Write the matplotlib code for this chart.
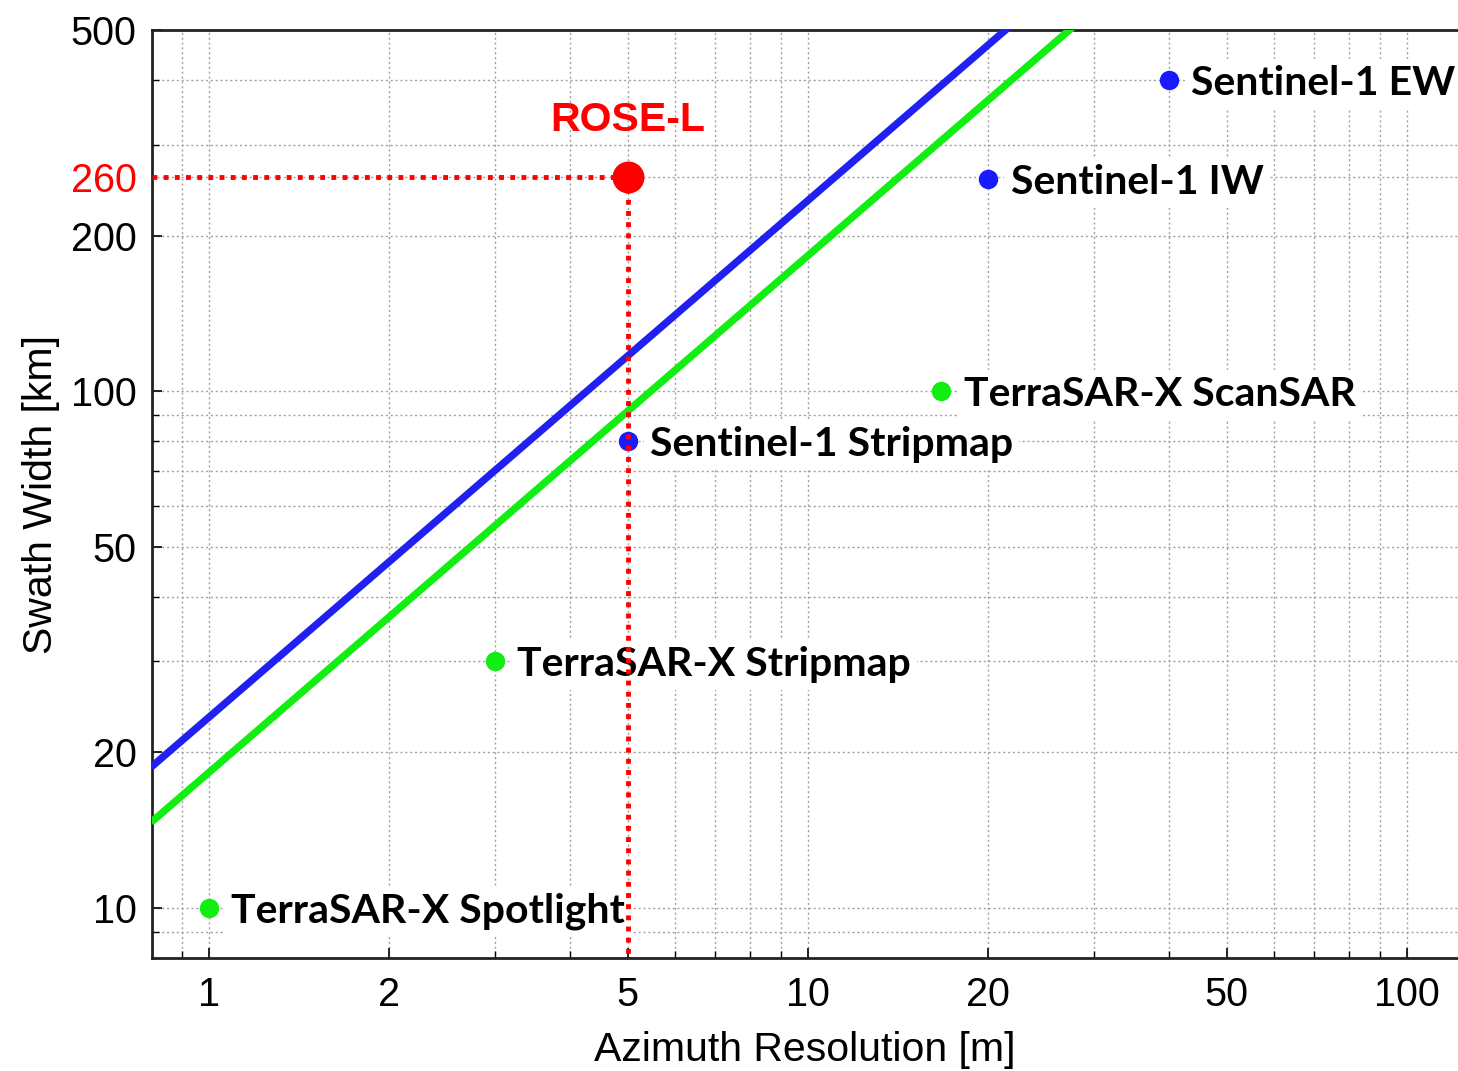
import matplotlib
matplotlib.use("Agg")
import matplotlib.pyplot as plt
import numpy as np
from matplotlib.ticker import LogLocator, NullFormatter, FixedLocator, FixedFormatter

# ---- data ----
line_res = [0.8, 130.0]
blue_factor = 23.4     # swath = factor * resolution
green_factor = 18.3

sys_names = ["Sentinel-1 EW", "Sentinel-1 IW", "TerraSAR-X ScanSAR",
             "Sentinel-1 Stripmap", "TerraSAR-X Stripmap", "TerraSAR-X Spotlight"]
sys_res = [40, 20, 16.7, 5, 3, 1]
sys_swath = [400, 257, 100, 80, 30, 10]
sys_colors = ["#1a1aff", "#1a1aff", "#11ee11", "#1a1aff", "#11ee11", "#11ee11"]

rose_res = 5
rose_swath = 260

xticks = [1, 2, 5, 10, 20, 50, 100]
yticks = [10, 20, 50, 100, 200, 500]

# ---- figure ----
fig = plt.figure(figsize=(14.58, 10.71), dpi=100)
ax = fig.add_axes([152/1458, 1-958/1071, 1-152/1458, (958-30)/1071])
ax.set_xscale("log")
ax.set_yscale("log")
ax.set_xlim(0.803, 121.7)
ax.set_ylim(8.0, 500)

lr = np.array(line_res)
ax.plot(lr, blue_factor*lr, color="#2020f0", lw=5.3, solid_capstyle="butt", zorder=3)
ax.plot(lr, green_factor*lr, color="#11ee11", lw=5.3, solid_capstyle="butt", zorder=3)

# ROSE-L guides
ax.plot([0.803, rose_res], [rose_swath, rose_swath], color="red", lw=3.5,
        linestyle=(0, (1, 1.3)), zorder=6)
ax.plot([rose_res, rose_res], [rose_swath, 8.0], color="red", lw=3.5,
        linestyle=(0, (1, 1.3)), zorder=6)
ax.plot([rose_res], [rose_swath], "o", color="red", ms=22, zorder=7)
ax.annotate("ROSE-L", (rose_res, rose_swath), xytext=(0, 27), textcoords="offset points",
            ha="center", va="bottom", color="red", fontsize=29.5, fontweight="bold",
            family="Liberation Sans", zorder=7)

for n, x, y, c in zip(sys_names, sys_res, sys_swath, sys_colors):
    ax.plot([x], [y], "o", color=c, ms=13, zorder=5)
    ax.annotate(n, (x, y), xytext=(16, 0), textcoords="offset points",
                ha="left", va="center_baseline", fontsize=29.5, fontweight="bold",
                family="Lato", color="black", zorder=4,
                bbox=dict(boxstyle="square,pad=0.15", fc="white", ec="none"))

# ticks
ax.xaxis.set_major_locator(FixedLocator(xticks))
ax.xaxis.set_major_formatter(FixedFormatter([str(t) for t in xticks]))
ax.xaxis.set_minor_locator(LogLocator(base=10, subs=np.arange(2, 10)))
ax.xaxis.set_minor_formatter(NullFormatter())
ax.yaxis.set_major_locator(FixedLocator(yticks + [rose_swath]))
ax.yaxis.set_major_formatter(FixedFormatter([str(t) for t in yticks] + ["260"]))
ax.yaxis.set_minor_locator(LogLocator(base=10, subs=np.arange(2, 10)))
ax.yaxis.set_minor_formatter(NullFormatter())
for lab in ax.get_yticklabels():
    if lab.get_text() == "260":
        lab.set_color("red")
ax.tick_params(which="both", direction="in", top=False, right=False)
ax.tick_params(which="major", length=7, width=1.2, labelsize=28.5)
ax.tick_params(axis="x", which="major", pad=13)
ax.tick_params(axis="y", which="major", pad=11)
ax.tick_params(which="minor", length=5, width=1.0)
for lab in ax.get_xticklabels() + ax.get_yticklabels():
    lab.set_family("Liberation Sans")
# hide the tick mark at 260
ax.yaxis.get_major_ticks()[-1].tick1line.set_visible(False)
ax.yaxis.get_major_ticks()[-1].gridline.set_visible(False)

ax.grid(which="both", color="#a0a0a0", linestyle=(0, (1.5, 2)), lw=1.0, zorder=0)
ax.set_axisbelow(True)

for s in ["left", "bottom", "top"]:
    ax.spines[s].set_linewidth(2)
    ax.spines[s].set_color("#222222")
ax.spines["right"].set_visible(False)

ax.set_xlabel("Azimuth Resolution [m]", fontsize=29.5, family="Liberation Sans", labelpad=12)
ax.set_ylabel("Swath Width [km]", fontsize=29.5, family="Liberation Sans", labelpad=8)

fig.savefig("out.png", dpi=100)
